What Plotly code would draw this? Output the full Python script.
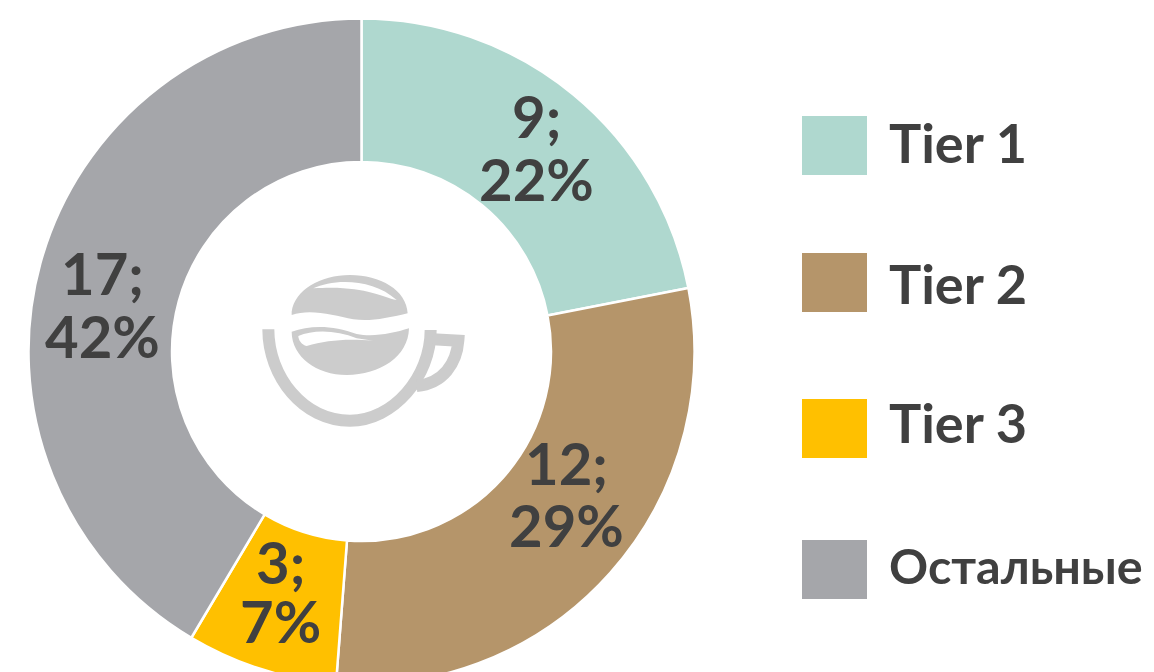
import plotly.graph_objects as go

categories = ["Tier 1", "Tier 2", "Tier 3", "Остальные"]
values = [9, 12, 3, 17]
percents = [22, 29, 7, 42]
colors = ["#AFD8CF", "#B5956A", "#FFC000", "#A5A6AA"]
label_x = [536, 566, 280, 102]
label_value_y = [115, 462, 561, 272]
label_percent_y = [178, 524, 620, 335]
legend_box_y = [116, 253, 399, 540]
legend_text_y = [143, 283, 423, 565]
legend_font_size = [54, 54, 54, 48.5]

# The ring runs past the bottom of the 672 px window, so the figure is taller and the page clips it.
W, H = 1154, 692
cx, cy, R = 361.5, 351.5, 333
FONT = "Lato"
TEXT = "#404040"


def px(x):
    return x / W


def py(y):
    return 1 - y / H


def to_paper(cmds, close=False):
    s = ""
    for c, pts in cmds:
        s += c + " ".join(f"{px(240 + x / 3):.5f},{py(260 + y / 3):.5f}" for x, y in pts)
    return s + ("Z" if close else "")


fig = go.Figure(go.Pie(
    labels=categories, values=values, hole=0.569, sort=False, direction="clockwise",
    rotation=0, textinfo="none", hoverinfo="label+value+percent",
    marker=dict(colors=colors, line=dict(color="white", width=2.5)),
    domain=dict(x=[px(cx - R), px(cx + R)], y=[py(cy + R), py(cy - R)]),
    showlegend=False,
))

shapes, ann = [], []
for c, col, by, ty, fs in zip(categories, colors, legend_box_y, legend_text_y, legend_font_size):
    shapes.append(dict(type="rect", xref="paper", yref="paper", x0=px(802), x1=px(867),
                       y0=py(by + 59), y1=py(by), fillcolor=col, line_width=0))
    ann.append(dict(text=f"<b>{c}</b>", x=px(887), y=py(ty), xref="paper", yref="paper",
                    xanchor="left", yanchor="middle", showarrow=False,
                    font=dict(family=FONT, size=fs, color=TEXT)))
for v, p, x, vy, py_ in zip(values, percents, label_x, label_value_y, label_percent_y):
    for t, y in ((f"<b>{v};</b>", vy), (f"<b>{p}%</b>", py_)):
        ann.append(dict(text=t, x=px(x), y=py(y), xref="paper", yref="paper", xanchor="center",
                        yanchor="middle", showarrow=False, align="center",
                        font=dict(family=FONT, size=58, color=TEXT)))

# Coffee-cup logo in the hole (decoration, coordinates in the reference crop's 3x space)
GREY = "#CCCCCC"
logo_fill = [
    ([("M", [(155, 155)]), ("C", [(165, 90), (240, 45), (330, 45)]), ("C", [(420, 45), (500, 90), (503, 160)]),
      ("C", [(440, 175), (390, 185), (340, 178)]), ("C", [(280, 165), (210, 145), (155, 165)])], GREY),
    ([("M", [(220, 85)]), ("C", [(280, 55), (400, 55), (470, 120)]), ("C", [(420, 110), (370, 75), (220, 85)])], "white"),
    ([("M", [(155, 215)]), ("C", [(210, 195), (280, 195), (350, 222)]), ("C", [(400, 232), (460, 220), (507, 205)]),
      ("C", [(505, 290), (420, 345), (320, 345)]), ("C", [(230, 345), (155, 290), (155, 215)])], GREY),
    ([("M", [(175, 228)]), ("C", [(220, 208), (290, 210), (350, 235)]), ("L", [(400, 242)]),
      ("C", [(320, 235), (260, 240), (200, 258)]), ("C", [(185, 255), (175, 240), (175, 228)])], "white"),
]
for cmds, col in logo_fill:
    shapes.append(dict(type="path", xref="paper", yref="paper", path=to_paper(cmds, True),
                       fillcolor=col, line_width=0))
logo_stroke = [
    [("M", [(85, 208)]), ("C", [(85, 350), (190, 482), (330, 482)]), ("C", [(460, 482), (572, 350), (572, 210)])],
    [("M", [(578, 238)]), ("L", [(655, 242)]), ("C", [(650, 310), (610, 370), (530, 378)])],
]
for cmds in logo_stroke:
    shapes.append(dict(type="path", xref="paper", yref="paper", path=to_paper(cmds),
                       fillcolor="rgba(0,0,0,0)", line=dict(color=GREY, width=12)))

fig.update_layout(width=W, height=H, margin=dict(l=0, r=0, t=0, b=0), paper_bgcolor="white",
                  shapes=shapes, annotations=ann)
fig.write_html("out.html", config=dict(displayModeBar=False),
               post_script="document.documentElement.style.overflow='hidden';document.body.style.overflow='hidden';document.body.style.margin='0';")
